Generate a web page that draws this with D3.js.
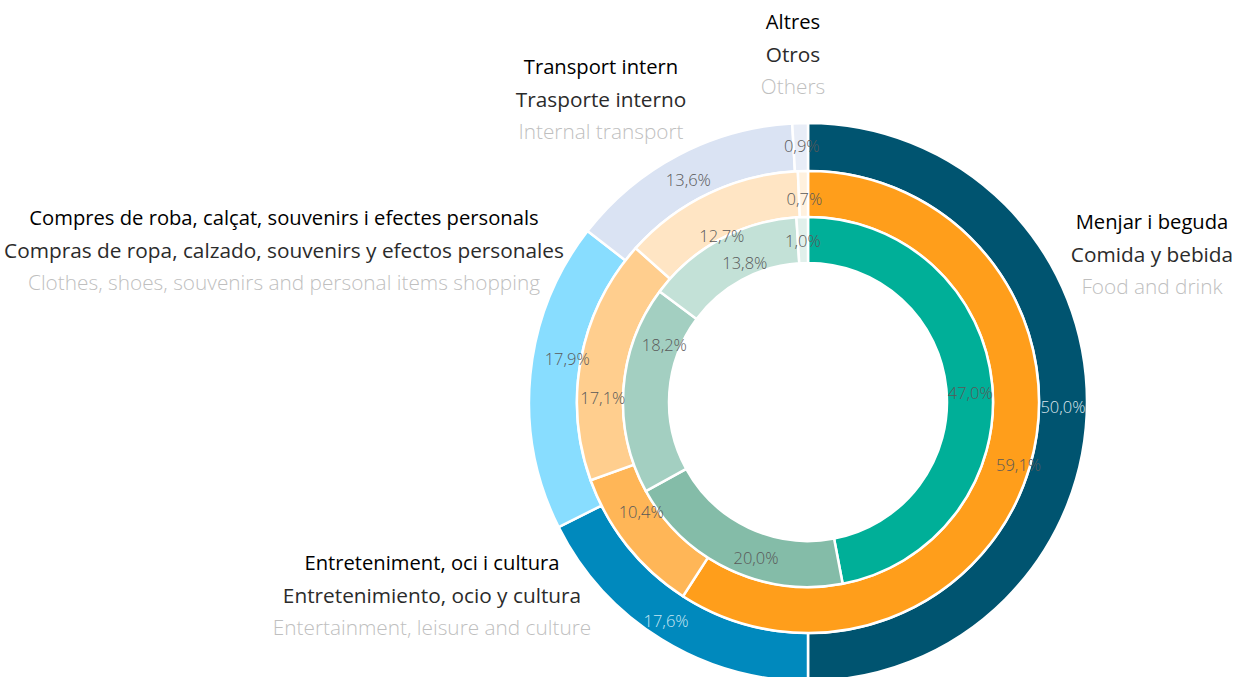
<!DOCTYPE html>
<html>
<head>
<meta charset="utf-8">
<script src="https://d3js.org/d3.v7.min.js"></script>
<style>
  body { margin: 0; background: #fff; }
  text { font-family: "Open Sans", "Noto Sans", sans-serif; }
</style>
</head>
<body>
<div id="chart"></div>
<script>
// categories, in three languages
var catCa = ["Menjar i beguda", "Entreteniment, oci i cultura", "Compres de roba, calçat, souvenirs i efectes personals", "Transport intern", "Altres"];
var catEs = ["Comida y bebida", "Entretenimiento, ocio y cultura", "Compras de ropa, calzado, souvenirs y efectos personales", "Trasporte interno", "Otros"];
var catEn = ["Food and drink", "Entertainment, leisure and culture", "Clothes, shoes, souvenirs and personal items shopping", "Internal transport", "Others"];

// ring values (%), outer to inner
var outerVals = [50.0, 17.6, 17.9, 13.6, 0.9];
var middleVals = [59.1, 10.4, 17.1, 12.7, 0.7];
var innerVals = [47.0, 20.0, 18.2, 13.8, 1.0];

var outerCols = ["#005470", "#0089BD", "#88DDFF", "#DAE3F3", "#E8EDF7"];
var middleCols = ["#FF9E1B", "#FFB657", "#FFCE8E", "#FFE5C4", "#FFF1DE"];
var innerCols = ["#00AF98", "#84BCA8", "#A3CFC1", "#C3E1D7", "#E1F0EB"];

var outerTxt = ["#DCE6EC", "#C8E6F3", "#595959", "#595959", "#595959"];
var otherTxt = ["#595959", "#595959", "#595959", "#595959", "#595959"];

// small nudges of the value labels away from the arc centroid
var outerNudge = [[0, 5], [-8, 2], [13, -18], [-1, 4], [1, -1]];
var middleNudge = [[11, 5], [-4, -19], [-1, 36], [3, 22], [1, 5]];
var innerNudge = [[1, 6], [17, 10], [18, -46], [14, 4], [0, 1]];

var width = 1240, height = 677;
var cx = 808, cy = 402;

var svg = d3.select("#chart").append("svg")
  .attr("width", width)
  .attr("height", height);

var pie = d3.pie().sort(null).value(function(d){ return d; });

var rings = [
  {vals: outerVals, cols: outerCols, txt: outerTxt, nudge: outerNudge, r0: 231, r1: 279},
  {vals: middleVals, cols: middleCols, txt: otherTxt, nudge: middleNudge, r0: 185, r1: 231},
  {vals: innerVals, cols: innerCols, txt: otherTxt, nudge: innerNudge, r0: 139, r1: 185}
];

var g = svg.append("g").attr("transform", "translate(" + cx + "," + cy + ")");
var slices = g.append("g");
var labels = g.append("g");

rings.forEach(function(ring) {
  var arc = d3.arc().innerRadius(ring.r0).outerRadius(ring.r1);
  var arcs = pie(ring.vals);
  slices.append("g").selectAll("path")
    .data(arcs)
    .enter().append("path")
    .attr("d", arc)
    .attr("fill", function(d, i){ return ring.cols[i]; })
    .attr("stroke", "#fff")
    .attr("stroke-width", 2.5);
  // labels go in their own layer so no ring paints over them
  labels.append("g").selectAll("text")
    .data(arcs)
    .enter().append("text")
    .attr("transform", function(d, i){
      var c = arc.centroid(d);
      return "translate(" + (c[0] + ring.nudge[i][0]) + "," + (c[1] + ring.nudge[i][1]) + ")";
    })
    .attr("text-anchor", "middle")
    .attr("dy", "0.35em")
    .attr("font-size", 16.5)
    .attr("font-weight", 300)
    .attr("fill", function(d, i){ return ring.txt[i]; })
    .text(function(d){ return d.data.toFixed(1).replace(".", ",") + "%"; });
});

// category labels
var labelPos = [[1152, 222], [432, 563], [284, 218], [601, 67], [793, 22]];
var lineCols = ["#000000", "#2B2B2B", "#BFBFBF"];
var lineWeights = [400, 400, 300];
var lineSizes = [20.2, 20.8, 20.8];
var lineGap = 32.5;

catCa.forEach(function(c, i) {
  var lines = [catCa[i], catEs[i], catEn[i]];
  var t = svg.append("g");
  lines.forEach(function(s, k) {
    t.append("text")
      .attr("x", labelPos[i][0])
      .attr("y", labelPos[i][1] + k * lineGap)
      .attr("dy", "0.35em")
      .attr("text-anchor", "middle")
      .attr("font-size", lineSizes[k])
      .attr("font-weight", lineWeights[k])
      .attr("fill", lineCols[k])
      .text(s);
  });
});
</script>
</body>
</html>
